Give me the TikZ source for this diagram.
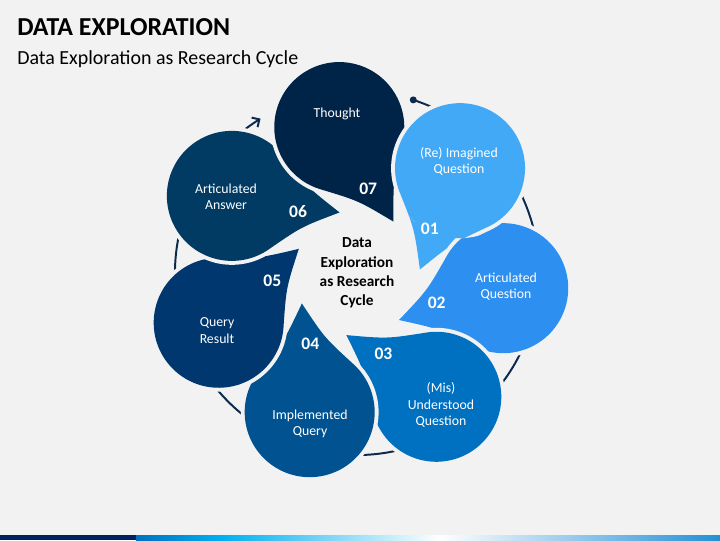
\documentclass[tikz,border=0pt]{standalone}
\usepackage{fontspec}
\setmainfont{Carlito}
\usetikzlibrary{arrows.meta,calc}
\definecolor{bgcol}{HTML}{F2F2F2}
\definecolor{ringcol}{HTML}{0C2A4C}
\definecolor{barnavy}{HTML}{002060}
\definecolor{barblue}{HTML}{0070C0}
\definecolor{barcyan}{HTML}{00B0F0}
\definecolor{barend}{HTML}{2290D6}
\definecolor{dropA}{HTML}{42A9F7}
\definecolor{dropB}{HTML}{2D8FF0}
\definecolor{dropC}{HTML}{0070C0}
\definecolor{dropD}{HTML}{005390}
\definecolor{dropE}{HTML}{00376E}
\definecolor{dropF}{HTML}{013A62}
\definecolor{dropG}{HTML}{002448}
% one drop: circle of radius 65, tip on the x axis
\newcommand{\droppath}{(109,0) .. controls (73.5,20) .. (45.96,45.96)
  arc[start angle=45,end angle=315,radius=65] .. controls (73.5,-20) .. (109,0) -- cycle}
\begin{document}
\begin{tikzpicture}[x=0.025cm,y=0.025cm,
    gap/.style={draw=bgcol,line width=5.6pt,line join=round},
    ring/.style={draw=ringcol,line width=1.4pt},
    lbl/.style={text=white,align=center,inner sep=0pt,font=\fontsize{9.8}{11.5}\selectfont},
    num/.style={text=white,inner sep=0pt,font=\bfseries\fontsize{12.5}{14}\selectfont}]
\useasboundingbox (0,0) rectangle (720,540);
\fill[bgcol] (0,0) rectangle (720,540);

% bottom strip
\fill[barnavy] (0,0) rectangle (136,5);
\shade[left color=barblue,right color=barcyan] (136,0) rectangle (222,5);
\shade[left color=barcyan,right color=white] (222,0) rectangle (440,5);
\shade[left color=white,right color=barend] (440,0) rectangle (720,5);

\node[anchor=base west,inner sep=0pt,font=\bfseries\fontsize{18.4}{20}\selectfont] (title) at (17,504) {DATA EXPLORATION};
\node[anchor=base west,inner sep=0pt,font=\fontsize{14.2}{16}\selectfont] (subtitle) at (17,475) {Data Exploration as Research Cycle};

\coordinate (hub) at (357,267);
\coordinate (ringstart) at ($(hub)+(72:182)$);
\draw[ring,-{Straight Barb[length=4pt,width=8pt]}] (ringstart) arc[start angle=72,end angle=-238,radius=182];
\fill[ringcol] (ringstart) circle[radius=3.5];

\foreach \idx/\hue in {1/dropA,2/dropB,3/dropC,4/dropD,5/dropE,6/dropF,7/dropG}
{\begin{scope}[shift={(hub)},rotate={45.5-(\idx-1)*360/7},shift={(147,0)},rotate=202.9]
  \draw[gap] \droppath;
  \fill[\hue] \droppath;
 \end{scope}
}
% 01 again over the tail of 07
\begin{scope}[shift={(hub)},rotate=45.5,shift={(147,0)},rotate=202.9]
  \clip (0,0) circle[radius=70];
  \draw[gap] \droppath;
  \fill[dropA] \droppath;
\end{scope}

\node[lbl] (lbl1) at (459,379) {(Re) Imagined\\Question};
\node[lbl] (lbl2) at (506,253) {Articulated\\Question};
\node[lbl] (lbl3) at (441,135) {(Mis)\\Understood\\Question};
\node[lbl] (lbl4) at (310,116.5) {Implemented\\Query};
\node[lbl] (lbl5) at (217,209.5) {Query\\Result};
\node[lbl] (lbl6) at (226,343) {Articulated\\Answer};
\node[lbl] (lbl7) at (337,426) {Thought};

\foreach \idx in {1,...,7}
  \node[num] (num\idx) at ($(hub)+({31-(\idx-1)*360/7}:85)$) {0\idx};

\node[align=center,inner sep=0pt,font=\bfseries\fontsize{10.9}{13.7}\selectfont] (core) at (hub) {Data\\Exploration\\as Research\\Cycle};
\end{tikzpicture}
\end{document}
